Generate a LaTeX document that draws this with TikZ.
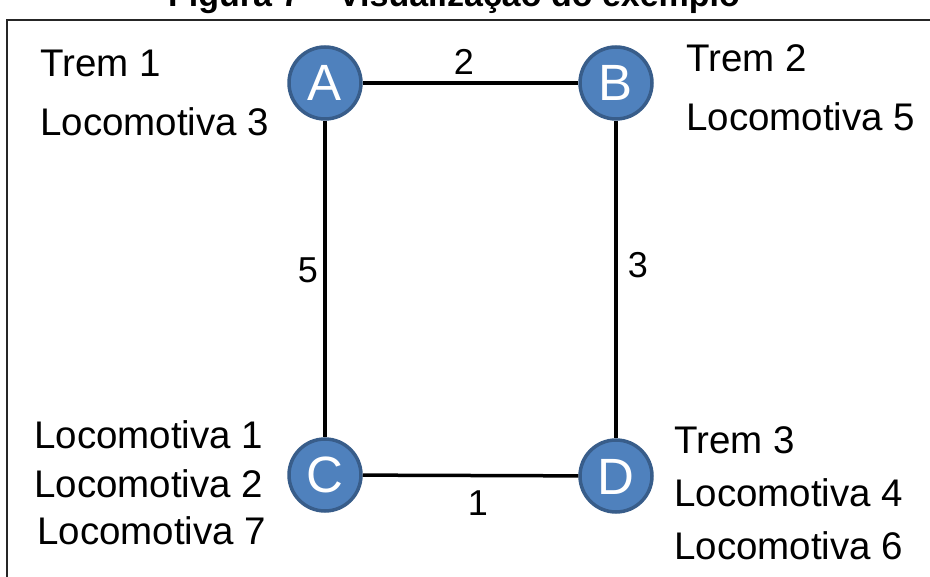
\documentclass[tikz,border=0pt]{standalone}
\usepackage{fontspec}
\setmainfont{Liberation Sans}
\begin{document}
\begin{tikzpicture}[x=1pt,y=-1pt,
  station/.style={circle,draw=nodeedge,fill=nodefill,line width=3.5pt,minimum size=72pt,inner sep=0pt},
  letter/.style={anchor=base,inner sep=0pt,text=white,font=\fontsize{51}{51}\selectfont},
  track/.style={line width=3.5pt,black},
  info/.style={anchor=base west,inner sep=0pt,font=\fontsize{38.5}{40}\selectfont},
  weight/.style={anchor=base,inner sep=0pt,font=\fontsize{36}{38}\selectfont}]
\definecolor{nodefill}{HTML}{4F81BD}
\definecolor{nodeedge}{HTML}{385D8A}
\useasboundingbox (0,0) rectangle (930,577);
\begin{scope}
\clip (0,0) rectangle (930,577);
% caption, partly cut off by the page top
\node[anchor=base,inner sep=0pt,font=\bfseries\fontsize{34}{36}\selectfont] (cap) at (454,7) {Figura 7 -- Visualização do exemplo};
\end{scope}
% frame
\draw[line width=1.3pt,black!85] (7,577) -- (7,20) -- (930,20);
% stations
\node[station] (A) at (325,83) {};
\node[station] (B) at (616,83) {};
\node[station] (C) at (325,475) {};
\node[station] (D) at (616,476) {};
% tracks
\draw[track] (A) -- (B);
\draw[track] (A) -- (C);
\draw[track] (B) -- (D);
\draw[track] (C) -- (D);
% station letters
\node[letter] (lA) at (325,101) {A};
\node[letter] (lB) at (616,101) {B};
\node[letter] (lC) at (325,493) {C};
\node[letter] (lD) at (616,494) {D};
% track weights
\node[weight] (w2) at (464,75) {2};
\node[weight] (w5) at (308,283) {5};
\node[weight] (w3) at (638,278) {3};
\node[weight] (w1) at (478,515) {1};
% trains and locomotives
\node[info] (t1) at (40,77) {Trem 1};
\node[info] (l3) at (40,136) {Locomotiva 3};
\node[info] (t2) at (686,72) {Trem 2};
\node[info] (l5) at (686,131) {Locomotiva 5};
\node[info] (l1) at (34,449) {Locomotiva 1};
\node[info] (l2) at (34,497) {Locomotiva 2};
\node[info] (l7) at (37,544) {Locomotiva 7};
\node[info] (t3) at (674,454) {Trem 3};
\node[info] (l4) at (674,507) {Locomotiva 4};
\node[info] (l6) at (674,559) {Locomotiva 6};
\end{tikzpicture}
\end{document}
